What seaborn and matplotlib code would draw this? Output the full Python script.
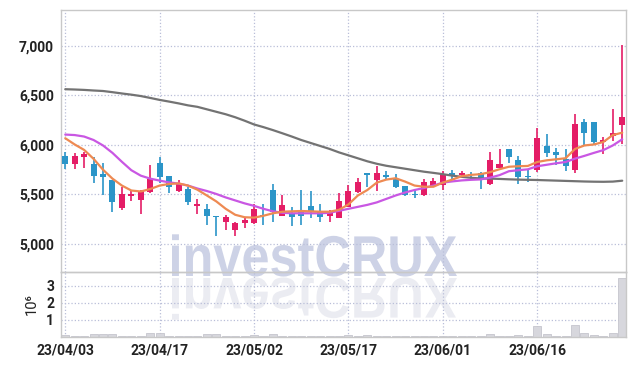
import numpy as np
import pandas as pd
import matplotlib
matplotlib.use('Agg')
import matplotlib.pyplot as plt
import seaborn as sns
from matplotlib.textpath import TextPath
from matplotlib.patches import PathPatch
from matplotlib.font_manager import FontProperties
from matplotlib.transforms import Affine2D
from matplotlib.ticker import FuncFormatter

# %% data (index = trading day)
opens = [5890, 5805, 5875, 5808, 5710, 5645, 5360, 5480, 5445, 5525,
         5820, 5690, 5530, 5555, 5385, 5350, 5283, 5220, 5140, 5210,
         5210, 5293, 5545, 5285, 5310, 5320, 5385, 5325, 5285, 5265,
         5375, 5525, 5715, 5645, 5697, 5655, 5585, 5495, 5490, 5590,
         5595, 5705, 5697, 5705, 5715, 5605, 5770, 5955, 5850, 5682,
         5750, 5990, 5930, 5855, 5745, 6235, 6230, 6025, 6090, 6205]
closes = [5805, 5890, 5910, 5690, 5680, 5425, 5505, 5505, 5530, 5655,
          5680, 5575, 5615, 5425, 5405, 5285, 5275, 5270, 5210, 5240,
          5355, 5285, 5325, 5395, 5275, 5285, 5320, 5275, 5310, 5435,
          5530, 5630, 5700, 5715, 5675, 5580, 5490, 5490, 5625, 5635,
          5705, 5700, 5720, 5698, 5665, 5845, 5810, 5875, 5680, 5678,
          6070, 5920, 5895, 5790, 6210, 6120, 6025, 6055, 6120, 6285]
highs = [5930, 5920, 5930, 5880, 5815, 5650, 5575, 5545, 5545, 5800,
         5880, 5690, 5645, 5580, 5450, 5405, 5285, 5295, 5225, 5275,
         5400, 5405, 5605, 5495, 5375, 5550, 5530, 5400, 5345, 5510,
         5595, 5665, 5720, 5790, 5735, 5705, 5590, 5545, 5655, 5670,
         5740, 5745, 5740, 5730, 5730, 5930, 5955, 5958, 5890, 5745,
         6170, 6110, 5965, 5955, 6310, 6260, 6230, 6085, 6360, 7010]
lows = [5755, 5755, 5765, 5615, 5495, 5325, 5345, 5430, 5300, 5510,
        5615, 5510, 5525, 5395, 5305, 5190, 5080, 5140, 5080, 5160,
        5205, 5190, 5225, 5280, 5180, 5190, 5260, 5225, 5225, 5260,
        5370, 5510, 5580, 5530, 5645, 5565, 5485, 5465, 5485, 5580,
        5550, 5645, 5677, 5660, 5560, 5600, 5765, 5815, 5605, 5630,
        5730, 5880, 5800, 5740, 5720, 6000, 6000, 5910, 6045, 6005]
volumes = [0.10, 0.04, 0.04, 0.16, 0.16, 0.16, 0.04, 0.04, 0.05, 0.25,
           0.25, 0.08, 0.06, 0.04, 0.04, 0.15, 0.15, 0.04, 0.03, 0.05,
           0.10, 0.05, 0.15, 0.06, 0.04, 0.05, 0.04, 0.04, 0.05, 0.06,
           0.10, 0.05, 0.10, 0.05, 0.05, 0.04, 0.04, 0.03, 0.06, 0.05,
           0.06, 0.05, 0.06, 0.06, 0.08, 0.16, 0.07, 0.06, 0.10, 0.06,
           0.63, 0.16, 0.05, 0.05, 0.69, 0.25, 0.10, 0.06, 0.26, 3.45]
ma_short = [6068, 6005, 5950, 5860, 5750, 5660, 5590, 5540, 5530, 5555,
            5590, 5606, 5612, 5590, 5548, 5490, 5430, 5355, 5295, 5270,
            5266, 5285, 5310, 5326, 5330, 5333, 5330, 5326, 5326, 5345,
            5400, 5490, 5545, 5620, 5650, 5664, 5630, 5590, 5578, 5578,
            5620, 5650, 5685, 5698, 5705, 5725, 5755, 5780, 5785, 5788,
            5828, 5845, 5855, 5866, 5960, 5995, 6005, 6030, 6100, 6124]
ma_mid = [6105, 6100, 6085, 6050, 5995, 5920, 5830, 5745, 5690, 5660,
          5640, 5622, 5610, 5590, 5560, 5535, 5505, 5470, 5440, 5410,
          5385, 5355, 5330, 5315, 5310, 5310, 5310, 5310, 5315, 5335,
          5355, 5375, 5395, 5420, 5455, 5490, 5520, 5545, 5565, 5590,
          5620, 5632, 5642, 5648, 5652, 5670, 5695, 5735, 5745, 5754,
          5785, 5800, 5815, 5828, 5862, 5890, 5920, 5948, 5995, 6057]
ma_long = [6563, 6560, 6556, 6550, 6545, 6533, 6520, 6508, 6494, 6475,
           6455, 6438, 6420, 6400, 6385, 6360, 6335, 6310, 6280, 6245,
           6207, 6180, 6150, 6118, 6085, 6050, 6020, 5990, 5960, 5925,
           5895, 5865, 5835, 5810, 5790, 5775, 5760, 5745, 5730, 5718,
           5705, 5690, 5678, 5668, 5662, 5660, 5657, 5653, 5650, 5648,
           5646, 5643, 5640, 5637, 5634, 5631, 5629, 5628, 5630, 5639]
date_pos = [0, 10, 20, 30, 40, 50]
date_labels = ['23/04/03', '23/04/17', '23/05/02', '23/05/17', '23/06/01', '23/06/16']

# %%
df = pd.DataFrame({'open': opens, 'close': closes, 'high': highs, 'low': lows,
                   'vol': volumes, 'ma5': ma_short, 'ma10': ma_mid, 'ma60': ma_long})
df['idx'] = np.arange(len(df))
up_col, down_col = '#e41d66', '#2b95c8'
colors = [up_col if c >= o else down_col for o, c in zip(df.open, df.close)]

sns.set_theme(style='white')
plt.rcParams['font.family'] = ['Roboto', 'DejaVu Sans']
plt.rcParams['font.weight'] = 'bold'

W, H = 634, 366
fig = plt.figure(figsize=(W / 100, H / 100), dpi=100)

# watermark layer (pixel coords, y down)
bg = fig.add_axes([0, 0, 1, 1], zorder=0)
bg.set_xlim(0, W)
bg.set_ylim(H, 0)
bg.axis('off')
tp = TextPath((0, 0), 'investCRUX', size=1, prop=FontProperties(family='Liberation Sans', weight='bold'))
ext = tp.get_extents()
sx = 285 / ext.width
sy = 42 / 0.73
x0, base = 172 - ext.x0 * sx, 276
bg.add_patch(PathPatch(tp, transform=Affine2D().scale(sx, -sy).translate(x0, base) + bg.transData,
                       color='#cdd2e6', lw=0))
bg.add_patch(PathPatch(tp, transform=Affine2D().scale(sx, sy).translate(x0, base + 2) + bg.transData,
                       color='#ebecf2', lw=0))

left, right = 61 / W, 626 / W
ax = fig.add_axes([left, 1 - 272 / H, right - left, (272 - 10) / H], zorder=1)
axv = fig.add_axes([left, 1 - 337 / H, right - left, (337 - 272) / H], zorder=1, sharex=ax)
for a in (ax, axv):
    a.set_facecolor('none')
    for s in a.spines.values():
        s.set_color('#c8c8c8')
        s.set_linewidth(1)
    a.grid(True, ls=':', color='#b9bed8', lw=0.9)
    a.tick_params(length=0, labelsize=10, colors='#222222')

# candles
ax.vlines(df.idx, df.low, df.high, colors=colors, lw=1.2, zorder=3)
body_lo = np.minimum(df.open, df.close)
body_h = np.maximum(np.abs(df.close - df.open), 12)
ax.bar(df.idx, body_h, bottom=body_lo, width=0.64, color=colors, lw=0, zorder=3)

# moving averages
sns.lineplot(data=df, x='idx', y='ma60', ax=ax, color='#737373', lw=1.6, zorder=4)
sns.lineplot(data=df, x='idx', y='ma10', ax=ax, color='#c957e3', lw=1.6, zorder=4)
sns.lineplot(data=df, x='idx', y='ma5', ax=ax, color='#ee8a52', lw=1.6, zorder=5)

ax.set_xlim(-0.45, 59.4)
ax.set_ylim(4717, 7363)
ax.set_yticks([5000, 5500, 6000, 6500, 7000])
ax.yaxis.set_major_formatter(FuncFormatter(lambda v, p: f'{v:,.0f}'))
ax.tick_params(axis='y', pad=5)
ax.tick_params(axis='x', labelbottom=False)
ax.set_xlabel('')
ax.set_ylabel('')

# volume
axv.bar(df.idx, df.vol, width=0.85, color='#d7d7dd', edgecolor='#c5c5cd', lw=0.6, zorder=2)
axv.set_ylim(0, 3.8)
axv.set_yticks([1, 2, 3])
axv.set_yticklabels(['1', '2', '3'])
axv.tick_params(axis='y', pad=5)
axv.set_ylabel('10\u2076', fontsize=10.5, color='#222222', labelpad=5, fontweight='normal')
axv.set_xticks(date_pos)
axv.set_xticklabels(date_labels, fontsize=10)
axv.tick_params(axis='x', pad=5)
axv.set_xlabel('')

fig.savefig('out.png', dpi=100)
